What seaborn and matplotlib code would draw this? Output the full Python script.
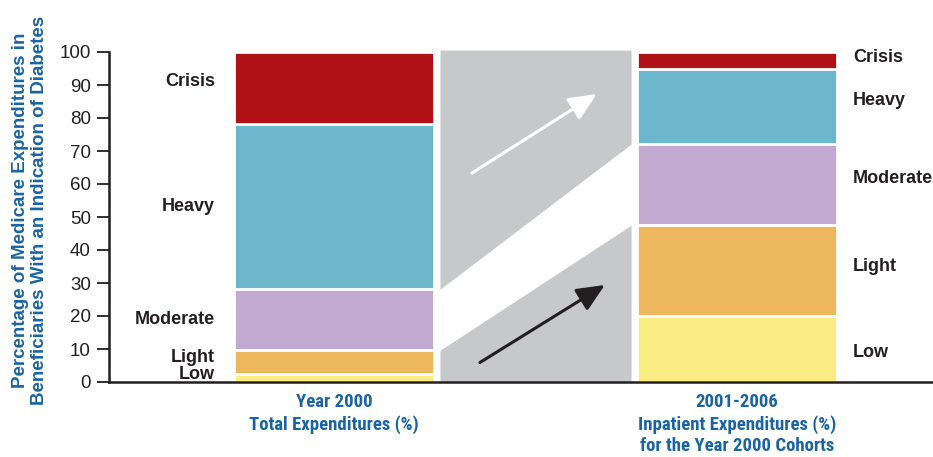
import numpy as np
import matplotlib
matplotlib.use("Agg")
import matplotlib.pyplot as plt
import seaborn as sns

# data (percent of expenditures)
periods = ["Year 2000", "2001-2006"]
levels = ["Low", "Light", "Moderate", "Heavy", "Crisis"]
year2000 = [2.5, 7.1, 18.5, 50.0, 21.9]
cohort = [20.0, 27.5, 24.6, 22.8, 5.1]
period_labels = ["Year 2000\nTotal Expenditures (%)",
                 "2001-2006\nInpatient Expenditures (%)\nfor the Year 2000 Cohorts"]
ylabel = "Percentage of Medicare Expenditures in\nBeneficiaries With an Indication of Diabetes"

colors = {"Low": "#f9ec82", "Light": "#edb75d", "Moderate": "#c1a9d0",
          "Heavy": "#6db7cd", "Crisis": "#b01117"}
blue = "#1a64a3"
dark = "#231f20"
gray = "#c7c8ca"

sns.set_style("white")
plt.rcParams["font.family"] = ["Liberation Sans", "DejaVu Sans"]

fig = plt.figure(figsize=(9.33, 4.57), dpi=100)
ax = fig.add_axes([109 / 933, 1 - 382 / 457, (933 - 109) / 933, (382 - 52) / 457])

cum_a = np.cumsum(year2000)
cum_b = np.cumsum(cohort)
bar_w = 0.496

# stacked bars: draw cumulative totals from the top level down
for i in range(len(levels) - 1, -1, -1):
    sns.barplot(x=periods, y=[cum_a[i], cum_b[i]], color=colors[levels[i]],
                width=bar_w, edgecolor="white", linewidth=2, saturation=1, ax=ax)

# gray flow bands between the bars
gx = 0.015
x0, x1 = bar_w / 2 + gx, 1 - bar_w / 2 - gx
ax.fill_between([x0, x1], [cum_a[2], cum_b[2]], [100.6, 100.6], color=gray, lw=0,
                zorder=0.5, clip_on=False)
ax.fill_between([x0, x1], [0, 0], [cum_a[1], cum_b[1]], color=gray, lw=0, zorder=0.5)

arrow = "-|>,head_length=0.85,head_width=0.38"
ax.annotate("", xy=(0.652, 87.3), xytext=(0.342, 63.3),
            arrowprops=dict(arrowstyle=arrow, color="white", lw=2.2,
                            mutation_scale=20, shrinkA=0, shrinkB=0))
ax.annotate("", xy=(0.672, 29.4), xytext=(0.362, 5.9),
            arrowprops=dict(arrowstyle=arrow, color=dark, lw=2.2,
                            mutation_scale=20, shrinkA=0, shrinkB=0))

# segment labels
nudge_a = {"Crisis": 2, "Light": 1.5, "Low": 1.1}
nudge_b = {"Crisis": 0.8, "Heavy": 1.7, "Moderate": 2, "Light": 1.3, "Low": -1}
for i, lev in enumerate(levels):
    ya = cum_a[i] - year2000[i] / 2 + nudge_a.get(lev, 0)
    ax.text(-bar_w / 2 - 0.047, ya, lev, ha="right", va="center",
            fontsize=13, fontweight="bold", color=dark)
    yb = cum_b[i] - cohort[i] / 2 + nudge_b.get(lev, 0)
    ax.text(1 + bar_w / 2 + 0.039, yb, lev, ha="left", va="center",
            fontsize=13, fontweight="bold", color=dark)

ax.set_xlim(-0.558, 1.486)
ax.set_ylim(0, 100)
ax.set_yticks(range(0, 101, 10))
ax.tick_params(axis="y", length=9, width=1.3, pad=4, labelsize=13.5,
               colors=dark, left=True)
ax.set_xticks([0, 1])
ax.set_xticklabels(period_labels, fontsize=13.5, fontweight="bold", color=blue,
                   family=["Roboto Condensed", "Roboto"], linespacing=1.25)
ax.tick_params(axis="x", length=0, pad=8)
ax.set_xlabel("")
ax.set_ylabel("")
for side in ["top", "right"]:
    ax.spines[side].set_visible(False)
for side in ["left", "bottom"]:
    ax.spines[side].set_linewidth(1.8)
    ax.spines[side].set_color(dark)

fig.text(30 / 933, 1 - 210 / 457, ylabel, rotation=90, ha="center", va="center",
         fontsize=13.5, fontweight="bold", color=blue, linespacing=1.15)

fig.savefig("out.png", dpi=100)
